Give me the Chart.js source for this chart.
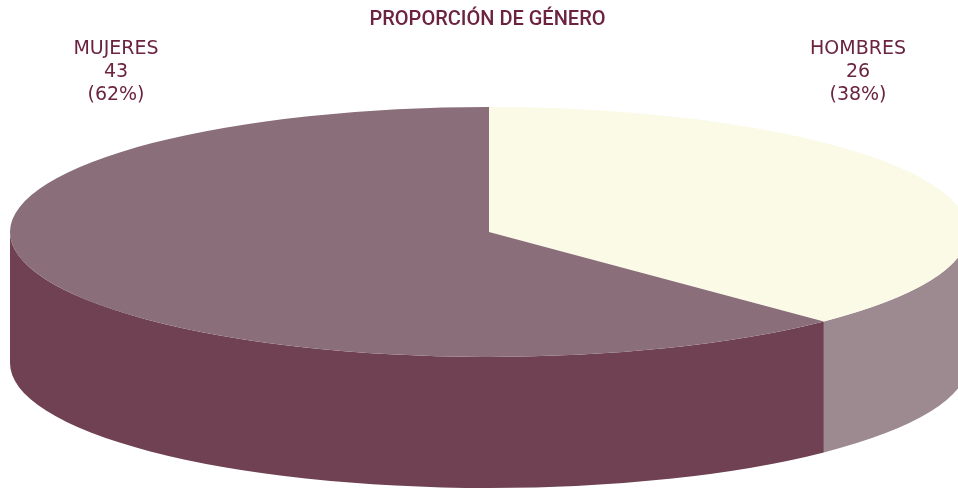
<!DOCTYPE html>
<html>
<head>
<meta charset="utf-8">
<style>html,body{margin:0;padding:0;background:#fff}canvas{display:block}</style>
<script src="https://cdn.jsdelivr.net/npm/chart.js@4"></script>
</head>
<body>
<canvas id="c" width="958" height="488"></canvas>
<script>
const categories = ['HOMBRES', 'MUJERES'];
const values = [26, 43];
const percentLabels = ['(38%)', '(62%)'];
const titleText = 'PROPORCIÓN DE GÉNERO';
const topColors = ['#fafae7', '#8a6e79'];
const sideColors = ['#9d8990', '#6f4152'];
const textColor = '#6b2340';

const view = { cx: 489, cy: 232, rx: 479, ry: 125, depth: 131 };
const labelPos = [{ x: 858, y: 49 }, { x: 116, y: 49 }];
const lineGap = 23;

const pie3d = {
  id: 'pie3d',
  beforeDatasetsDraw(chart) {
    const ctx = chart.ctx;
    const arcs = chart.getDatasetMeta(0).data;
    ctx.save();
    arcs.forEach((arc, i) => {
      const a1 = Math.max(arc.startAngle, 0);
      const a2 = Math.min(arc.endAngle, Math.PI);
      if (a2 <= a1) return;
      ctx.beginPath();
      ctx.ellipse(view.cx, view.cy, view.rx, view.ry, 0, a1, a2);
      ctx.ellipse(view.cx, view.cy + view.depth, view.rx, view.ry, 0, a2, a1, true);
      ctx.closePath();
      ctx.fillStyle = sideColors[i];
      ctx.fill();
    });
    ctx.restore();
    const a = arcs[0];
    ctx.save();
    ctx.translate(view.cx, view.cy);
    ctx.scale(view.rx / a.outerRadius, view.ry / a.outerRadius);
    ctx.translate(-a.x, -a.y);
  },
  afterDatasetsDraw(chart) {
    chart.ctx.restore();
  },
  afterDraw(chart) {
    const ctx = chart.ctx;
    ctx.save();
    ctx.font = '19px "DejaVu Sans"';
    ctx.fillStyle = textColor;
    ctx.textAlign = 'center';
    ctx.textBaseline = 'middle';
    categories.forEach((name, i) => {
      const p = labelPos[i];
      ctx.fillText(name, p.x, p.y);
      ctx.fillText(String(values[i]), p.x, p.y + lineGap);
      ctx.fillText(percentLabels[i], p.x, p.y + 2 * lineGap);
    });
    ctx.restore();
  }
};

new Chart(document.getElementById('c'), {
  type: 'pie',
  data: {
    labels: categories,
    datasets: [{
      data: values,
      backgroundColor: topColors,
      borderWidth: 0,
      clip: false
    }]
  },
  options: {
    responsive: false,
    animation: false,
    layout: { padding: { left: 17, top: 0, right: 0, bottom: 0 } },
    plugins: {
      legend: { display: false },
      tooltip: { enabled: false },
      title: {
        display: true,
        text: titleText,
        color: textColor,
        font: { family: 'Roboto', size: 20, weight: '500' },
        padding: { top: 8, bottom: 10 }
      }
    }
  },
  plugins: [pie3d]
});
</script>
</body>
</html>
